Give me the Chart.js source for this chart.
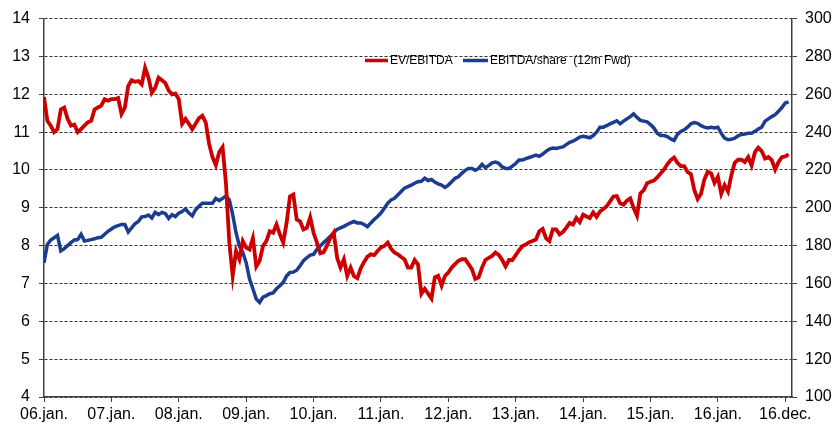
<!DOCTYPE html>
<html>
<head>
<meta charset="utf-8">
<script src="https://cdn.jsdelivr.net/npm/chart.js@4/dist/chart.umd.min.js"></script>
<style>
    html, body { margin: 0; padding: 0; background: #fff; }
    #wrap { width: 835px; height: 427px; position: relative; }
</style>
</head>
<body>
<div id="wrap"><canvas id="valuationChart"></canvas></div>
<script>
const tickLabels = ['06.jan.', '07.jan.', '08.jan.', '09.jan.', '10.jan.', '11.jan.',
    '12.jan.', '13.jan.', '14.jan.', '15.jan.', '16.jan.', '16.dec.'];

// EV/EBITDA, left axis
const evEbitda = [
    11.93, 11.30, 11.17, 11.00, 11.08, 11.60, 11.65, 11.35, 11.17, 11.20,
    11.00, 11.08, 11.17, 11.26, 11.30, 11.60, 11.65, 11.70, 11.87, 11.83,
    11.87, 11.87, 11.90, 11.48, 11.65, 12.22, 12.37, 12.33, 12.35, 12.26,
    12.70, 12.44, 12.04, 12.17, 12.44, 12.37, 12.30, 12.10, 12.00, 12.02,
    11.87, 11.22, 11.35, 11.22, 11.08, 11.22, 11.37, 11.43, 11.26, 10.69,
    10.34, 10.13, 10.47, 10.60, 9.65, 8.08, 7.20, 7.86, 7.64, 8.12,
    7.95, 7.90, 8.20, 7.45, 7.60, 7.99, 8.12, 8.38, 8.34, 8.56,
    8.30, 8.08, 8.60, 9.30, 9.35, 8.69, 8.64, 8.43, 8.47, 8.75,
    8.34, 8.08, 7.80, 7.83, 8.00, 8.20, 8.34, 7.68, 7.42, 7.64,
    7.20, 7.42, 7.19, 7.14, 7.40, 7.57, 7.71, 7.77, 7.75, 7.86,
    7.95, 7.99, 8.08, 7.92, 7.82, 7.77, 7.70, 7.64, 7.42, 7.42,
    7.62, 7.50, 6.73, 6.86, 6.73, 6.60, 7.16, 7.20, 6.94, 7.20,
    7.29, 7.42, 7.51, 7.60, 7.64, 7.64, 7.51, 7.38, 7.12, 7.16,
    7.42, 7.62, 7.68, 7.73, 7.82, 7.75, 7.62, 7.45, 7.62, 7.62,
    7.75, 7.88, 7.99, 8.03, 8.09, 8.12, 8.16, 8.38, 8.44, 8.20,
    8.12, 8.43, 8.43, 8.30, 8.36, 8.47, 8.60, 8.56, 8.73, 8.62,
    8.82, 8.77, 8.73, 8.88, 8.76, 8.90, 8.97, 9.04, 9.17, 9.30,
    9.31, 9.12, 9.08, 9.19, 9.25, 8.99, 8.79, 9.38, 9.47, 9.65,
    9.69, 9.72, 9.80, 9.91, 10.01, 10.15, 10.26, 10.33, 10.19, 10.10,
    10.10, 9.95, 9.89, 9.47, 9.23, 9.37, 9.75, 9.95, 9.91, 9.66,
    9.82, 9.37, 9.60, 9.43, 9.86, 10.19, 10.27, 10.27, 10.21, 10.34,
    10.12, 10.47, 10.59, 10.50, 10.30, 10.34, 10.26, 10.01, 10.21, 10.34,
    10.36, 10.41,
];

// EBITDA/share (12m Fwd), right axis
const ebitdaPerShare = [
    171.0, 180.6, 183.0, 184.2, 185.4, 177.2, 178.4, 180.0, 181.6, 183.0,
    183.2, 186.0, 182.4, 182.8, 183.2, 183.6, 184.2, 184.4, 186.0, 187.6,
    188.8, 190.0, 190.6, 191.2, 191.2, 187.2, 189.4, 191.6, 192.8, 195.2,
    195.4, 196.2, 194.6, 197.6, 196.4, 197.6, 197.0, 194.4, 196.4, 195.4,
    197.2, 198.0, 199.4, 197.2, 195.8, 199.0, 200.8, 202.4, 202.4, 202.4,
    202.4, 205.0, 203.8, 205.0, 206.2, 204.2, 196.4, 186.8, 179.8, 176.4,
    171.0, 162.4, 157.2, 151.8, 150.0, 152.8, 153.6, 154.6, 155.0, 157.2,
    158.8, 160.6, 164.0, 165.8, 166.0, 167.0, 169.4, 172.0, 173.6, 175.0,
    175.4, 178.0, 179.8, 181.6, 183.2, 185.0, 186.8, 188.6, 189.4, 190.2,
    191.2, 192.0, 192.8, 192.0, 192.0, 191.2, 190.0, 192.0, 193.8, 195.4,
    197.2, 199.8, 202.4, 204.2, 205.0, 206.8, 208.6, 210.4, 211.2, 212.0,
    213.0, 213.8, 214.0, 215.6, 214.4, 215.0, 213.6, 212.6, 212.0, 210.8,
    212.0, 213.8, 215.6, 216.4, 218.2, 219.8, 220.8, 220.8, 219.8, 220.8,
    223.0, 221.2, 222.4, 223.8, 224.2, 223.4, 221.6, 220.8, 220.8, 222.0,
    223.4, 225.2, 225.2, 226.0, 226.6, 227.2, 227.8, 227.2, 228.4, 229.8,
    231.0, 231.6, 231.4, 231.8, 232.2, 233.4, 234.6, 235.2, 236.2, 237.4,
    237.8, 237.4, 237.0, 238.2, 240.0, 242.6, 242.6, 243.4, 244.4, 245.2,
    246.0, 244.4, 245.8, 247.0, 248.2, 249.6, 247.8, 246.2, 245.8, 245.4,
    244.0, 242.2, 239.4, 238.2, 238.2, 237.6, 236.4, 235.6, 238.8, 240.4,
    241.2, 242.6, 244.4, 245.0, 244.6, 243.4, 242.6, 242.2, 242.6, 242.2,
    242.6, 239.4, 236.8, 236.0, 236.2, 236.8, 238.0, 238.8, 239.0, 239.4,
    239.4, 240.4, 241.6, 242.6, 245.8, 247.0, 248.2, 249.2, 251.0, 253.0,
    255.4, 256.0,
];

const pointsPerLabel = 20;

const chartColors = {
    ev: '#cc0000',
    ebitda: '#1b3c8f',
    grid: '#333333',
    axis: '#404040',
    text: '#000000',
};

const fontFamily = "'Liberation Sans', Arial, sans-serif";

// legend drawn inside the plot, above the lines
const insideLegend = {
    id: 'insideLegend',
    afterDatasetsDraw(chart) {
        const { ctx } = chart;
        const items = [
            { x: 365, line: 23 },
            { x: 463, line: 25 },
        ];
        ctx.save();
        ctx.font = `12px ${fontFamily}`;
        ctx.textBaseline = 'middle';
        ctx.fillStyle = chartColors.text;
        chart.data.datasets.forEach((ds, i) => {
            const item = items[i];
            ctx.strokeStyle = ds.borderColor;
            ctx.lineWidth = 3.5;
            ctx.beginPath();
            ctx.moveTo(item.x, 60.5);
            ctx.lineTo(item.x + item.line, 60.5);
            ctx.stroke();
            ctx.fillText(ds.label, item.x + item.line + 2, 61);
        });
        ctx.restore();
    },
};

function fixWidth(width) {
    return (scale) => { scale.width = width; };
}

new Chart(document.getElementById('valuationChart'), {
    type: 'line',
    data: {
        labels: evEbitda.map((_, i) => i),
        datasets: [
            {
                label: 'EV/EBITDA',
                data: evEbitda,
                yAxisID: 'y',
                borderColor: chartColors.ev,
                borderWidth: 3.8,
                pointRadius: 0,
                tension: 0,
            },
            {
                label: 'EBITDA/share  (12m Fwd)',
                data: ebitdaPerShare,
                yAxisID: 'y2',
                borderColor: chartColors.ebitda,
                borderWidth: 3.5,
                pointRadius: 0,
                tension: 0,
            },
        ],
    },
    options: {
        responsive: true,
        maintainAspectRatio: false,
        animation: false,
        layout: { padding: { top: 15, left: 0, right: 0, bottom: 0 } },
        scales: {
            x: {
                type: 'linear',
                min: 0,
                max: evEbitda.length,
                afterFit: (scale) => { scale.height = 30; },
                ticks: {
                    stepSize: pointsPerLabel,
                    includeBounds: false,
                    autoSkip: false,
                    maxRotation: 0,
                    padding: 3,
                    color: chartColors.text,
                    font: { family: fontFamily, size: 16 },
                    callback: (value) => tickLabels[value / pointsPerLabel] ?? '',
                },
                grid: {
                    drawOnChartArea: false,
                    tickLength: 5,
                    tickColor: chartColors.axis,
                },
                border: { color: chartColors.axis, width: 1.5 },
            },
            y: {
                position: 'left',
                min: 4,
                max: 14,
                afterFit: fixWidth(44),
                ticks: {
                    stepSize: 1,
                    padding: 9,
                    color: chartColors.text,
                    font: { family: fontFamily, size: 16 },
                },
                grid: {
                    color: chartColors.grid,
                    lineWidth: 1,
                    tickLength: 5,
                    tickColor: chartColors.axis,
                    tickBorderDash: [],
                },
                border: { color: chartColors.axis, width: 1.5, dash: [3, 2] },
            },
            y2: {
                position: 'right',
                min: 100,
                max: 300,
                afterFit: fixWidth(43),
                ticks: {
                    stepSize: 20,
                    padding: 8,
                    color: chartColors.text,
                    font: { family: fontFamily, size: 16 },
                },
                grid: {
                    drawOnChartArea: false,
                    tickLength: 5,
                    tickColor: chartColors.axis,
                },
                border: { color: chartColors.axis, width: 1.5 },
            },
        },
        plugins: {
            legend: { display: false },
            tooltip: { enabled: false },
        },
    },
    plugins: [insideLegend],
});
</script>
</body>
</html>
